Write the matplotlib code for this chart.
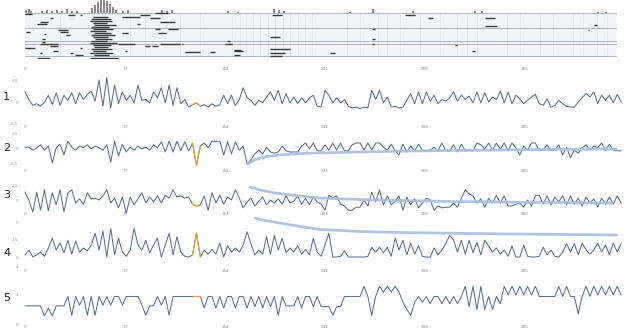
import numpy as np
import matplotlib.pyplot as plt

W, H = 639, 333
PASO = 3

marcas_x = [0, 77, 154, 231, 308, 385]
etiquetas_x = ['0', '77', '154', '231', '308', '385']

# series (una muestra cada PASO unidades)
serie1 = [1.2, 0.3, -0.4, -0.2, -0.5, 0.0, 0.8, -0.3, 1.1, -0.4,
          0.8, 0.2, 1.1, -0.2, 1.1, 0.3, 0.9, 1.3, 0.1, 2.6,
          -0.5, 2.9, -0.7, 2.0, -0.2, 1.2, 0.2, 0.8, -0.1, 2.0,
          0.2, 0.3, -0.1, 1.2, 0.5, 1.7, -0.1, 2.0, -0.4, 1.7,
          -0.2, 0.3, -0.6, -0.3, -0.1, -0.5, -0.3, -0.6, -0.2, -0.5,
          -0.3, 0.8, -0.2, 0.8, -0.4, 0.3, 1.7, 0.5, 0.2, -0.4,
          0.2, -0.1, 0.6, 1.2, 0.2, 1.4, -0.2, 1.0, -0.1, 0.6,
          -0.2, 0.5, -0.1, 0.5, 0.8, -0.5, -0.6, 1.4, 0.8, -0.1,
          0.5, -0.1, 0.3, -0.5, -0.7, -0.6, -0.8, -0.6, -0.7, 1.4,
          0.3, 1.4, -0.1, 0.6, -0.6, -0.5, -0.7, -0.6, 0.2, 1.0,
          -0.2, 1.2, -0.2, 1.2, 0.1, 0.8, -0.2, 0.3, 0.1, 0.5,
          1.2, 0.1, 0.8, 0.3, 0.7, -0.1, 1.2, -0.1, 1.1, 0.0,
          0.6, 0.3, 1.3, -0.1, 1.2, -0.2, 0.8, 0.4, -0.2, 0.2,
          0.6, 0.9, -0.2, -0.4, 0.4, -0.6, -0.4, 0.2, -0.2, -0.5,
          -0.6, -0.6, 0.0, 0.5, 1.0, 0.6, 1.2, -0.2, 0.8, 0.2,
          0.8, -0.1, 0.9, 0.0]

serie2 = [0.3, 0.3, -0.2, 0.2, 0.7, -0.2, 0.5, -2.3, 0.2, 0.8,
          -1.0, 1.3, 0.3, -0.2, 0.5, 0.2, 0.7, 0.0, 0.5, 0.2,
          -0.2, 0.7, -2.2, 1.3, -1.2, 0.8, -0.5, 0.3, -0.2, 0.5,
          0.0, 0.3, -0.2, 0.7, 0.2, 1.2, -0.5, 1.3, -0.5, 1.3,
          -0.3, 1.2, -0.3, 1.0, -2.7, 0.5, 1.0, 0.2, 1.3, 1.3,
          1.3, -1.0, 1.2, -0.8, 1.2, -0.2, 0.5, -2.5, -1.8, -0.8,
          -0.2, -0.8, 0.3, -0.5, -0.7, -0.5, 0.5, -0.3, -0.5, -0.5,
          -0.5, 0.5, 1.0, 0.0, 1.0, -0.3, -0.3, 0.7, -0.2, 1.0,
          -0.2, 1.0, -0.3, -0.3, 0.7, 1.0, 1.0, -0.2, 1.0, -0.2,
          1.0, 1.0, 0.3, -0.2, 0.8, -0.3, -1.0, 0.8, -0.5, 0.5,
          -0.3, 0.8, -0.2, -0.3, -0.2, 0.3, -0.3, 1.0, -0.3, -0.3,
          0.7, -0.5, 0.8, -0.3, -0.2, -0.3, 1.0, 0.7, 0.0, 1.0,
          -0.2, 1.0, 0.0, 1.0, -0.3, 1.0, 0.2, -1.0, 0.5, -0.2,
          1.0, 1.0, -0.3, -0.2, 0.7, -0.3, -0.2, 0.7, -1.0, 0.3,
          -1.5, -0.2, -0.7, 0.2, 0.7, -0.2, 0.5, 0.2, 1.0, -0.3,
          0.8, -0.2, -0.3, -0.3]

serie3 = [1.3, 0.0, -2.0, 1.3, -1.7, 1.7, -1.8, 1.2, -0.8, 1.7,
          -2.0, 1.2, 1.7, -0.5, 0.2, -0.7, 1.2, 0.2, 0.3, 0.0,
          0.7, 1.7, -0.5, 0.3, -1.3, 0.5, -2.2, 0.5, -0.8, 0.2,
          1.2, -0.5, 0.5, -0.3, 0.7, -0.5, 0.8, 0.3, 1.7, 0.5,
          0.7, 0.3, 0.5, -0.7, -1.0, -0.8, 0.7, -1.7, 1.2, -0.5,
          0.8, -0.7, 0.5, 0.0, 1.7, 0.3, -1.3, -0.3, 0.3, -1.0,
          -0.2, 0.5, -0.8, 0.0, -0.5, 0.2, -0.7, 0.7, -0.5, -0.2,
          0.7, -0.7, 0.3, -0.8, 0.5, -0.3, -0.7, -1.7, 0.8, 0.3,
          0.7, -0.7, -1.0, -1.7, -1.7, -1.2, -1.2, 0.0, -1.0, 1.3,
          -0.3, 1.7, -0.8, 0.7, -0.8, -0.2, 0.7, -1.7, 0.5, -0.8,
          0.2, -1.3, -0.5, 0.3, 0.0, -1.7, -1.0, -1.3, -1.2, -1.2,
          -0.5, -1.2, 0.3, 1.7, 1.0, 0.7, -0.5, 0.2, -1.2, 0.3,
          -0.5, 0.8, -0.5, 0.7, -1.0, -1.0, -0.7, -0.5, -1.2, 0.0,
          -1.0, 0.7, 0.8, -0.7, 0.7, -0.8, 0.5, -0.3, 0.7, -0.8,
          0.7, -0.7, 0.3, -1.0, 0.5, -0.5, 0.2, -1.2, 0.3, -0.7,
          0.5, -0.7, 0.7, -0.5]

serie4 = [0.3, 1.0, 0.0, 0.3, 0.7, 0.1, 1.3, 2.7, 1.0, 2.0,
          0.6, 2.4, 0.4, 2.3, 0.7, 1.3, 0.9, 1.7, 3.4, 1.0,
          3.7, 0.0, 4.1, 0.3, 2.7, 0.7, 0.1, 1.0, 4.1, 1.7,
          1.0, 2.4, 0.6, 1.7, 2.7, 0.0, 1.7, 3.4, 0.3, 2.9,
          0.7, 0.1, 0.0, 0.3, 3.4, 0.0, 1.0, 0.4, 1.1, 0.4,
          2.0, 0.0, 1.6, 0.7, 1.3, 0.7, 1.7, 3.6, 1.9, 0.3,
          1.0, 0.4, 2.9, 0.4, 3.1, 1.0, 2.7, 0.6, 1.3, 0.7,
          1.6, 0.4, 1.1, 0.3, 2.7, 0.7, 0.1, 1.7, 3.4, 0.0,
          0.0, 0.1, 0.9, 0.0, 0.0, 0.0, 0.0, 0.0, 0.1, 1.4,
          0.7, 1.4, 0.6, 1.4, 0.1, 2.7, 1.0, 2.4, 0.3, 2.0,
          0.4, 1.6, 0.1, 0.0, 0.0, 1.3, 0.3, 1.0, 1.9, 3.1,
          2.4, 0.7, 2.4, 0.4, 2.4, 0.6, 2.1, 0.3, 2.4, 1.6,
          0.7, 1.3, 0.4, 1.0, 0.1, 1.6, 0.0, 0.0, 1.7, 0.1,
          0.0, 0.0, 0.1, 1.4, 0.3, 1.0, 0.1, 0.0, 0.7, 1.9,
          0.7, 1.9, 0.3, 2.0, 1.0, 0.4, 1.0, 2.0, 0.7, 1.7,
          0.3, 2.0, 0.7, 1.9]

serie5 = [1.25, 1.25, 1.25, 1.25, 1.25, 0.55, 1.1, 0.55, 1.25, 1.25,
          1.25, 1.9, 0.6, 1.9, 1.3, 1.9, 0.6, 1.9, 0.6, 1.9,
          1.3, 1.9, 1.3, 1.9, 1.9, 1.3, 1.9, 1.9, 1.9, 1.9,
          1.3, 0.6, 1.25, 1.25, 1.9, 1.3, 1.9, 0.6, 1.9, 1.9,
          1.9, 1.9, 1.9, 1.9, 1.9, 1.9, 1.1, 1.9, 1.9, 1.1,
          1.9, 1.1, 1.9, 1.9, 1.1, 1.9, 1.9, 1.1, 1.9, 1.2,
          1.9, 1.1, 1.9, 1.2, 1.9, 0.6, 1.9, 1.25, 1.25, 1.25,
          1.9, 1.1, 1.9, 1.9, 1.2, 1.9, 1.2, 1.2, 1.2, 0.6,
          1.2, 1.2, 1.9, 1.9, 1.9, 1.9, 1.9, 2.6, 1.9, 0.6,
          1.9, 2.6, 2.2, 2.6, 2.2, 2.6, 2.2, 1.5, 1.0, 0.6,
          1.5, 1.9, 1.5, 1.9, 1.4, 1.9, 1.9, 1.4, 1.9, 1.4,
          1.9, 1.4, 1.9, 2.6, 1.2, 2.6, 1.0, 2.6, 1.0, 1.9,
          1.0, 1.9, 1.4, 2.6, 2.0, 2.6, 2.0, 2.6, 2.0, 2.6,
          2.0, 2.6, 1.9, 1.9, 1.9, 1.9, 1.9, 2.6, 1.9, 2.6,
          1.9, 1.9, 0.7, 1.9, 2.6, 1.9, 2.6, 2.0, 2.6, 2.0,
          2.6, 2.0, 2.6, 2.0]

# tramo resaltado en naranja (índices)
ini_naranja, fin_naranja = 43, 46

# curvas suaves superpuestas (paneles 2, 3 y 4)
curva2_x = [171.7, 177, 185, 196, 212, 227, 258, 289, 327, 366, 404, 455]
curva2_y = [-2.5, -1.8, -1.3, -1.0, -0.75, -0.65, -0.5, -0.35, -0.25, -0.17, -0.08, 0.0]
curva3_x = [173.3, 181, 192.5, 211.8, 227.2, 258, 288.8, 327.3, 365.8, 412, 452]
curva3_y = [2.17, 1.67, 1.17, 0.67, 0.33, 0.08, -0.08, -0.25, -0.33, -0.42, -0.5]
curva4_x = [177.1, 184.8, 196.4, 211.8, 227.2, 258, 288.8, 327.3, 365.8, 412, 455.8]
curva4_y = [5.57, 5.21, 4.86, 4.36, 3.93, 3.64, 3.5, 3.4, 3.31, 3.23, 3.14]

# raster superior: fila, inicio, fin
fila = [0.5, 1, 1, 2.5, 4.5, 5.5, 2, 2.5, 5.5, 4.5, 0, 8.5, 9.5, 11, 9.5, 10.5,
        10, 8, 10, 8, 13, 14.5, 15.5, 17.5, 16.5, 19, 20, 20, 21, 17.5, 22.5,
        22.5, 15.5, 19, 16.5, 16.5, 15.5, 15.5, 19.5, 15.5, 14, 19, 18.5, 21,
        18, 20, 21.5, 12, 1, 1, 19.5, 1, 2.5, 8, 13, 15.5, 20, 2.5, 6.5, 6,
        8.5, 19, 16,
        2, 3, 4, 5, 6, 7, 8, 9, 10, 11, 12, 13, 14, 15, 16, 17, 18, 19, 20, 21]
inicio = [0, 33.1, 42.4, 19.3, 11.6, 9.2, 74.7, 96.3, 86.2, 104, 100.1, 25.4,
          27, 31.6, 0.8, 14.6, 74.7, 100.1, 102.4, 110.1, 13.1, 13.1, 11.6, 0,
          19.3, 21.6, 11.6, 34.7, 38.5, 42.4, 9.2, 50, 71.6, 77, 92.4, 97.5,
          104, 120.5, 123.2, 154, 155.5, 160.9, 160.9, 160.9, 188.7, 188.7,
          188.7, 188.7, 190.2, 88.6, 142.5, 292.6, 310.3, 267.2, 267.2, 267.2,
          234.9, 354.2, 354.2, 438.1, 433.5, 344.2, 331.1,
          52, 51, 50, 52, 53, 51, 52, 50, 53, 51, 52, 54, 51, 50, 52, 53, 51,
          52, 50, 53]
fin = [5.4, 38.5, 43.9, 21.6, 17.7, 16.9, 88.6, 104, 88.6, 115.5, 110.1, 33.1,
       33.1, 34.7, 3.9, 16.2, 79.3, 104, 108.6, 117.8, 15.4, 15.4, 25.4, 7.7,
       25.4, 25.4, 13.1, 37, 44.7, 43.9, 19.3, 71.6, 84.7, 78.5, 96.3, 102.4,
       119.4, 121.7, 134.8, 159.4, 157.9, 167.9, 166, 165.6, 204.1, 200.2,
       197.9, 196.4, 197.9, 96.3, 146.3, 300.3, 314.2, 269.5, 269.5, 268.5,
       238.7, 361.9, 363.4, 440.4, 434.5, 346.5, 332.5,
       64, 66, 67, 63, 70, 65, 68, 62, 66, 69, 64, 67, 63, 71, 66, 64, 67,
       62, 68, 65]

# histograma encima del raster
hist_x = [0.8, 3.1, 4.6, 13.1, 16.9, 20.8, 24.6, 28.5, 32.3, 36.2, 40,
          51.6, 53.9, 56.2, 58.5, 60.8, 63.1, 65.5, 67.8, 70.1, 75.5, 79.3,
          105.5, 109.3, 113.2, 156.3, 164, 191.7, 195.6, 199.4, 250.3, 268,
          298.8, 346.5, 351.9, 441.2, 447.4]
hist_h = [3, 4, 2, 2, 3, 2, 3, 2, 4, 2, 2,
          5, 8, 11, 13, 13, 12, 9, 6, 3, 2, 3,
          3, 2, 3, 2, 1, 4, 3, 2, 1, 4,
          2, 2, 2, 1, 1]

guias_x = [27, 80.9, 92.4, 119.4, 134.8, 159.4, 165.6, 170.2, 175.6, 181,
           187.1, 192.5, 198.7, 204.1, 210.2, 215.6, 221, 247.9, 258, 271.8,
           278.7, 288.8, 304.2, 319.6, 332.6, 340.3, 348, 371.1, 381.2,
           396.6, 406.6, 422, 429.7, 440.4, 448.1]
separadores = [0, 7.5, 14, 15.5, 21.5]

LINEA = '#50668a'
CURVA = '#a7bfdc'
NARANJA = '#e9a33a'
GRIS = '#8a8a8a'


def caja(x0, y0, x1, y1):
    return [x0 / W, 1 - y1 / H, (x1 - x0) / W, (y1 - y0) / H]


def limpiar(ax, xmax):
    ax.set_xlim(0, xmax)
    for s in ax.spines.values():
        s.set_visible(False)
    ax.patch.set_alpha(0)
    ax.set_xticks(marcas_x)
    ax.set_xticklabels(etiquetas_x)
    ax.tick_params(length=0, labelsize=3, labelcolor=GRIS)
    ax.tick_params(axis='x', pad=1)
    ax.tick_params(axis='y', pad=5)


fig = plt.figure(figsize=(W / 100, H / 100), dpi=100)

# histograma
ax_h = fig.add_axes(caja(25, 0, 617, 13))
ax_h.bar(hist_x, hist_h, width=1.8, color='#8c8c8c', linewidth=0)
ax_h.set_ylim(0, 13)
ax_h.set_xlim(0, 455.8)
ax_h.axis('off')

# raster
ax_r = fig.add_axes(caja(25, 12, 617, 59))
limpiar(ax_r, 455.8)
ax_r.set_ylim(23, -0.5)
ax_r.set_yticks([])
ax_r.tick_params(axis='x', pad=6)
ax_r.axhspan(0, 21.5, color='#f2f4f7', lw=0)
ax_r.vlines(guias_x, 0, 21.5, color='#dde3ea', lw=0.5)
for r in separadores:
    ax_r.axhline(r, color='#9aabbd', lw=0.6)
ax_r.hlines(fila, inicio, fin, color='#3a3a3a', lw=1.0)

# paneles de series
paneles = [
    (serie1, (75, 124), (-2.6, 3.2), [-2.5, 0, 2.5], '1', 97, None),
    (serie2, (131, 168), (-3.17, 3.0), [-2.5, 0, 2.5], '2', 148, (curva2_x, curva2_y)),
    (serie3, (176, 211), (-1.83, 4.0), [0, 2.5], '3', 195, (curva3_x, curva3_y)),
    (serie4, (220, 268), (-1.57, 5.29), [0, 2.5, 5], '4', 253, (curva4_x, curva4_y)),
    (serie5, (266, 324), (0, 4), [0, 2, 4], '5', 298, None),
]

for serie, (y0, y1), lim, yt, nombre, ny, curva in paneles:
    ax = fig.add_axes(caja(25, y0, 625, y1))
    limpiar(ax, 462)
    ax.set_ylim(*lim)
    ax.set_yticks(yt)
    ax.set_yticklabels([f'{v:g}' for v in yt])
    x = np.arange(len(serie)) * PASO
    ax.plot(x, serie, color=LINEA, lw=0.7, clip_on=False)
    ax.plot(x[ini_naranja:fin_naranja], serie[ini_naranja:fin_naranja],
            color=NARANJA, lw=0.9, clip_on=False)
    if curva is not None:
        ax.plot(curva[0], curva[1], color=CURVA, lw=2, alpha=0.9,
                solid_capstyle='round', clip_on=False)
    fig.text(3 / W, 1 - ny / H, nombre, fontsize=8, color='#222222',
             va='center', ha='left')

fig.savefig('out.png', dpi=100)
